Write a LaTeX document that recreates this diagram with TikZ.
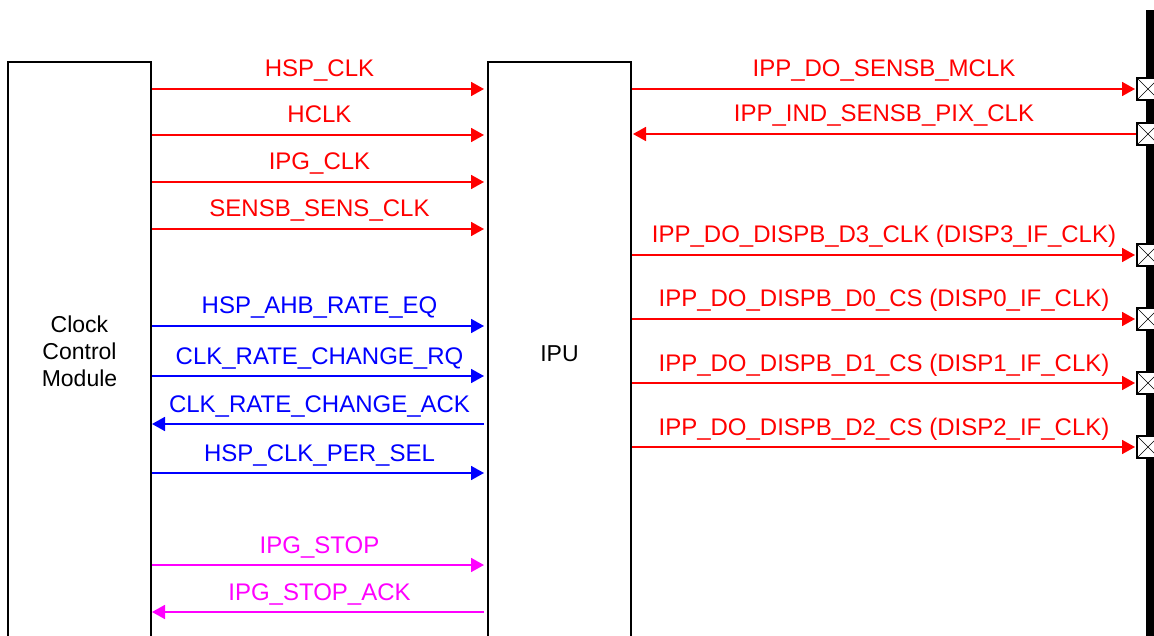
\documentclass[tikz,border=0pt]{standalone}
\usepackage{fontspec}
\setmainfont{Liberation Sans}
\usetikzlibrary{arrows.meta}
\definecolor{sigred}{RGB}{255,0,0}
\definecolor{sigblue}{RGB}{0,0,255}
\definecolor{sigmag}{RGB}{255,0,255}
\begin{document}
\begin{tikzpicture}[x=1pt,y=-1pt,
 box/.style={draw=black,line width=2pt,fill=white,rectangle,inner sep=0pt},
 sig/.style={line width=1.8pt,-{Triangle[length=13pt,width=14pt]}},
 lbl/.style={font=\fontsize{24}{27}\selectfont,anchor=base,inner sep=0pt},
 boxtext/.style={font=\fontsize{23}{27}\selectfont,align=center,inner sep=0pt},
 pad/.style={draw=black,line width=2pt,fill=white,minimum size=22pt,inner sep=0pt,
   path picture={\draw[line width=0.6pt] (path picture bounding box.south west) -- (path picture bounding box.north east) (path picture bounding box.north west) -- (path picture bounding box.south east);}},
]
\useasboundingbox (0,0) rectangle (1154,636);
\clip (0,0) rectangle (1154,636);
% blocks
\node[box,minimum width=143pt,minimum height=640pt] (ccm) at (79.5,382) {};
\node[boxtext] (ccmt) at (79.5,351) {Clock\\Control\\Module};
\node[box,minimum width=143pt,minimum height=640pt] (ipu) at (559.5,382) {};
\node[boxtext] (iput) at (559.5,354) {IPU};
% pad bar
\fill[black] (1146,10) rectangle (1156,640);
\node[pad] (p1) at (1148,89) {};
\node[pad] (p2) at (1148,134) {};
\node[pad] (p3) at (1148,255) {};
\node[pad] (p4) at (1148,319) {};
\node[pad] (p5) at (1148,383) {};
\node[pad] (p6) at (1148,447) {};
% left side signals
\foreach \yy/\txt/\col in {89/HSP\_CLK/sigred,135/HCLK/sigred,182/IPG\_CLK/sigred,229/SENSB\_SENS\_CLK/sigred,326/HSP\_AHB\_RATE\_EQ/sigblue,376/CLK\_RATE\_CHANGE\_RQ/sigblue,473/HSP\_CLK\_PER\_SEL/sigblue,565/IPG\_STOP/sigmag}{
  \draw[sig,\col,shorten >=3pt] (ccm.east |- 0,\yy) -- (ipu.west |- 0,\yy)
    node[lbl,midway,yshift=12pt,text=\col] {\txt};
}
\foreach \yy/\txt/\col in {424/CLK\_RATE\_CHANGE\_ACK/sigblue,612/IPG\_STOP\_ACK/sigmag}{
  \draw[sig,\col,shorten <=3pt] (ipu.west |- 0,\yy) -- (ccm.east |- 0,\yy)
    node[lbl,midway,yshift=12pt,text=\col] {\txt};
}
% right side signals
\draw[sig,sigred,shorten >=1pt] (ipu.east |- p1) -- (p1.west)
  node[lbl,midway,yshift=12pt,text=sigred] {IPP\_DO\_SENSB\_MCLK};
\draw[sig,sigred,shorten >=1pt] (p2.west) -- (ipu.east |- p2)
  node[lbl,midway,yshift=12pt,text=sigred] {IPP\_IND\_SENSB\_PIX\_CLK};
\draw[sig,sigred,shorten >=1pt] (ipu.east |- p3) -- (p3.west)
  node[lbl,midway,yshift=12pt,text=sigred] {IPP\_DO\_DISPB\_D3\_CLK (DISP3\_IF\_CLK)};
\draw[sig,sigred,shorten >=1pt] (ipu.east |- p4) -- (p4.west)
  node[lbl,midway,yshift=12pt,text=sigred] {IPP\_DO\_DISPB\_D0\_CS (DISP0\_IF\_CLK)};
\draw[sig,sigred,shorten >=1pt] (ipu.east |- p5) -- (p5.west)
  node[lbl,midway,yshift=12pt,text=sigred] {IPP\_DO\_DISPB\_D1\_CS (DISP1\_IF\_CLK)};
\draw[sig,sigred,shorten >=1pt] (ipu.east |- p6) -- (p6.west)
  node[lbl,midway,yshift=12pt,text=sigred] {IPP\_DO\_DISPB\_D2\_CS (DISP2\_IF\_CLK)};
\end{tikzpicture}
\end{document}
